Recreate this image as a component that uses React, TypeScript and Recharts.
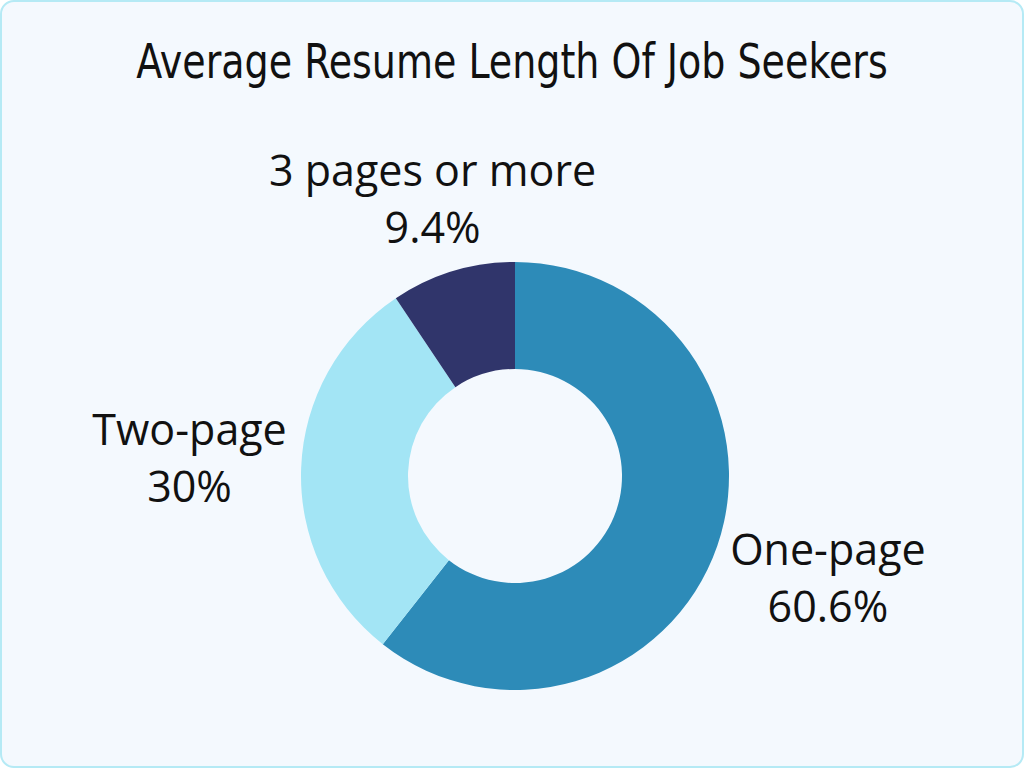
import { PieChart, Pie, Cell } from 'recharts';

const categories = ['One-page', 'Two-page', '3 pages or more'];
const shares = [60.6, 30, 9.4];
const colors = ['#2d8bb8', '#a3e5f5', '#30356b'];

const data = categories.map((name, i) => ({ name, value: shares[i] }));

const RADIAN = Math.PI / 180;
const FONT = '"Open Sans", "Noto Sans", sans-serif';

// label box sits outside the ring; its nearest edge faces the slice
function renderLabel(props: any) {
  const { cx, cy, midAngle, outerRadius, index } = props;
  const name = categories[index];
  const pct = `${shares[index]}%`;
  const fontSize = 43;
  const w = Math.max(name.length, pct.length) * fontSize * 0.55;
  const h = 100;
  const ux = Math.cos(-midAngle * RADIAN);
  const uy = Math.sin(-midAngle * RADIAN);
  const toEdge = Math.min(
    Math.abs(ux) > 1e-6 ? w / 2 / Math.abs(ux) : Infinity,
    Math.abs(uy) > 1e-6 ? h / 2 / Math.abs(uy) : Infinity
  );
  const r = outerRadius + 17 + toEdge;
  const x = cx + r * ux;
  const y = cy + r * uy;
  return (
    <text
      x={x}
      y={y}
      textAnchor="middle"
      fill="#111"
      fontFamily={FONT}
      fontSize={fontSize}
    >
      <tspan x={x} dy={-19}>{name}</tspan>
      <tspan x={x} dy={57}>{pct}</tspan>
    </text>
  );
}

export default function App() {
  return (
    <div
      style={{
        position: 'absolute',
        left: 0,
        top: 0,
        width: 1024,
        height: 768,
        boxSizing: 'border-box',
        background: '#f4f9fe',
        border: '2px solid #b5eaf5',
        borderRadius: 14,
        overflow: 'hidden',
      }}
    >
      <div
        style={{
          position: 'absolute',
          top: 34,
          left: 0,
          width: '100%',
          textAlign: 'center',
          fontFamily: '"DejaVu Sans Condensed", "Liberation Sans Narrow", sans-serif',
          fontSize: 48,
          color: '#111',
          lineHeight: '50px',
          transform: 'scaleX(0.88)',
        }}
      >
        Average Resume Length Of Job Seekers
      </div>
      <div style={{ position: 'absolute', left: -2, top: -2 }}>
        <PieChart width={1024} height={768} margin={{ top: 0, right: 0, bottom: 0, left: 0 }}>
          <Pie
            data={data}
            dataKey="value"
            nameKey="name"
            cx={515}
            cy={476}
            innerRadius={107}
            outerRadius={214}
            startAngle={90}
            endAngle={-270}
            stroke="none"
            label={renderLabel}
            labelLine={false}
            isAnimationActive={false}
          >
            {data.map((d, i) => (
              <Cell key={d.name} fill={colors[i]} />
            ))}
          </Pie>
        </PieChart>
      </div>
    </div>
  );
}
